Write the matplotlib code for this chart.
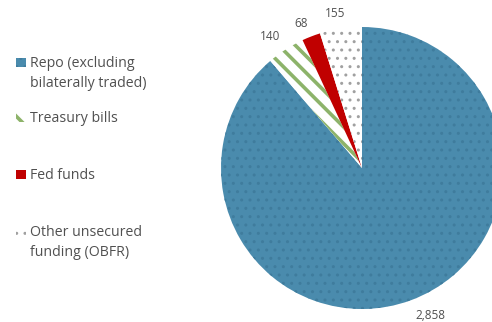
import matplotlib
matplotlib.use("Agg")
import matplotlib.pyplot as plt
from matplotlib.patches import Rectangle

plt.rcParams['font.family'] = ['Open Sans', 'DejaVu Sans']

# data
labels = ["Repo (excluding\nbilaterally traded)", "Treasury bills", "Fed funds",
          "Other unsecured\nfunding (OBFR)"]
values = [2858, 140, 68, 155]
value_text = ["2,858", "140", "68", "155"]

faces = ['#4A8BAD', 'white', '#C00000', 'white']
hatch_cols = ['#3F7C9D', '#8DB36A', '#C00000', '#A0A0A0']
hatches = ['..', '\\\\', None, '..']
hatch_lw = [1.0, 2.6, 1.0, 1.0]
txt_col = '#505050'

fig = plt.figure(figsize=(4.92, 3.22), dpi=100)
W, H = 492, 322
# pie axes: centre ~ (362,168) px, radius ~141 px
ax = fig.add_axes([221 / W, (H - 309) / H, 282 / W, 282 / H])

wedges, texts = ax.pie(values, labels=value_text, startangle=90, counterclock=False,
                       labeldistance=1.1, radius=1,
                       textprops=dict(color=txt_col, fontsize=8.5, ha='center', va='center'))
for w, fc, hc, h, lw in zip(wedges, faces, hatch_cols, hatches, hatch_lw):
    w.set_facecolor(fc)
    w.set_edgecolor(hc)
    w.set_linewidth(0)
    w.set_clip_on(False)
    if h:
        w.set_hatch(h)
        try:
            w.set_hatch_linewidth(lw)
        except AttributeError:
            pass
ax.set_xlim(-1, 1)
ax.set_ylim(-1, 1)

# nudge value labels a little (px -> axes data units, r = 141 px)
nudge = [(15, -2), (-8, 1), (-5, 0), (-4, 1)]
for t, (dx, dy) in zip(texts, nudge):
    x, y = t.get_position()
    t.set_position((x + dx / 141, y + dy / 141))

# legend, drawn by hand
leg_y = [62, 117, 174, 231]
for lab, fc, hc, h, lw, y in zip(labels, faces, hatch_cols, hatches, hatch_lw, leg_y):
    r = Rectangle((16 / W, (H - y - 5) / H), 9.5 / W, 9.5 / H, transform=fig.transFigure,
                  facecolor=fc, edgecolor=hc, linewidth=0, hatch=h)
    if h:
        try:
            r.set_hatch_linewidth(lw)
        except AttributeError:
            pass
    fig.add_artist(r)
    fig.text(30 / W, (H - y + 6) / H, lab, color=txt_col, fontsize=10.2, va='top', ha='left',
             linespacing=1.47)

fig.savefig("out.png", dpi=100)
